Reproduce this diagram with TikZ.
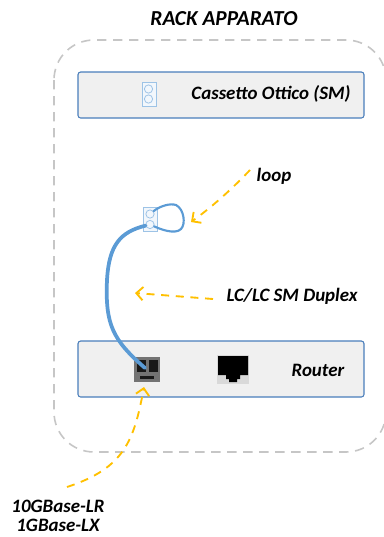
\documentclass[tikz,border=0pt]{standalone}
\usepackage{fontspec}
\setmainfont{Carlito}
\usetikzlibrary{arrows.meta, positioning}

\begin{document}
\begin{tikzpicture}[
						x=0.75pt, y=-0.75pt,
						label/.style = {font=\bfseries\itshape\fontsize{14.2}{16}\selectfont, text=black, inner sep=0pt},
						panel/.style = {draw=panelcol, fill=gray!12, rounded corners=2pt, line width=0.8pt, minimum width=214.5pt, inner sep=0pt},
						patch/.style = {draw=cablecol!60, fill=cablecol!8, line width=0.7pt, minimum width=10.5pt, minimum height=18pt, inner sep=0pt},
						hole/.style = {draw=cablecol!60, circle, line width=0.6pt, minimum size=6.2pt, inner sep=0pt},
						fibre/.style = {draw=cablecol, line cap=round},
						hint/.style = {draw=hintcol, line width=1.4pt, dash pattern=on 6pt off 5pt, -{Straight Barb[length=5pt,width=10pt]}}
					]
\definecolor{cablecol}{HTML}{5B9BD5}
\definecolor{hintcol}{HTML}{FFC000}
\definecolor{panelcol}{HTML}{4A7EBB}
\useasboundingbox (0,0) rectangle (384,537);

% rack
\draw[gray!45, line width=1.2pt, dash pattern=on 7pt off 5pt, rounded corners=30pt] (54,40) rectangle (386,452);
\node[label, font=\bfseries\itshape\fontsize{16}{18}\selectfont] (title) at (224,19) {RACK APPARATO};

% panels
\node[panel, minimum height=34.5pt] (cassetto) at (221,95) {};
\node[panel, minimum height=42pt] (router) at (221,369) {};
\node[label] (cassettotxt) at (271,94) {Cassetto Ottico (SM)};
\node[label] (routertxt) at (318,370) {Router};

% ports
\node[patch] (front) at (149,94) {};
\node[hole] (fronta) at (148.5,89) {};
\node[hole] (frontb) at (148.5,99) {};
\node[patch] (loopbox) at (150,219.5) {};
\node[hole] (loopa) at (150,214) {};
\node[hole] (loopb) at (150,224.5) {};

\node[fill=black!55, minimum width=19.5pt, minimum height=19pt, inner sep=0pt] (sfp) at (147,369.5) {};
\fill[black!90] (137,360) rectangle (146,372);
\fill[black!90] (149,360) rectangle (158,372);
\fill[black!90] (140,376) rectangle (154,379);
\node[fill=gray!30, minimum width=24pt, minimum height=21.5pt, inner sep=0pt] (rj) at (233,369.5) {};
\fill[black] (218,356) -- (248,356) -- (248,375) -- (240,375) -- (240,379) -- (237,379) -- (237,382) -- (229,382) -- (229,379) -- (226,379) -- (226,375) -- (218,375) -- cycle;

% cable
\coordinate (sfpin) at (145,368);
\draw[fibre, line width=2.8pt] (loopb) .. controls (120,232) and (109,245) .. (107,280) .. controls (105,325) and (113,340) .. (sfpin);
\draw[fibre, line width=1.6pt] (loopa) .. controls (160,206) and (170,203) .. (176,205) .. controls (184,209) and (186,224) .. (181,229) .. controls (175,235) and (160,229) .. (loopb);

% arrows
\node[label] (looptxt) at (274,176) {loop};
\node[label] (lctxt) at (292,296) {LC/LC SM Duplex};
\node[label] (tentxt) at (58,506) {10GBase-LR};
\node[label] (onetxt) [below=5pt of tentxt] {1GBase-LX};

\coordinate (loopstart) at (250,170);
\coordinate (lcstart) at (213,299);
\coordinate (tenstart) at (67,487);
\coordinate (loopend) at (191,222);
\coordinate (lcend) at (135,293);
\coordinate (sfpend) at (144,387);
\draw[hint] (loopstart) .. controls (233,188) and (212,207) .. (loopend);
\draw[hint] (lcstart) -- (lcend);
\draw[hint] (tenstart) .. controls (125,468) and (134,440) .. (sfpend);
\end{tikzpicture}
\end{document}
